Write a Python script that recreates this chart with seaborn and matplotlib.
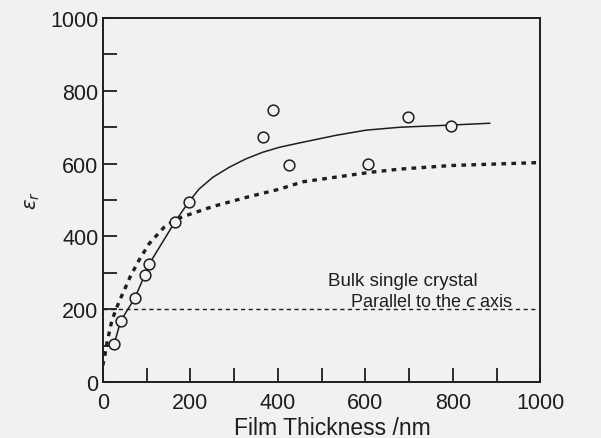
import matplotlib
matplotlib.use("Agg")
import matplotlib.pyplot as plt
import seaborn as sns

# measured points
thickness = [26, 41, 73, 96, 106, 165, 196, 367, 388, 425, 606, 698, 797]
eps_r = [104, 168, 230, 294, 324, 440, 494, 672, 747, 597, 600, 727, 704]

# solid fitted curve
solid_x = [26, 41, 73, 96, 106, 165, 196, 220, 251, 289, 327, 365, 404, 450, 534, 602, 679, 797, 885]
solid_y = [104, 168, 230, 294, 324, 440, 494, 530, 562, 590, 613, 631, 645, 657, 678, 692, 700, 706, 711]

# dotted curve
dot_x = [0, 5, 10, 21, 37, 52, 63, 83, 106, 121, 140, 159, 174, 197, 251, 327, 404, 457, 610, 679, 800, 1000]
dot_y = [45, 75, 110, 170, 220, 260, 290, 335, 380, 400, 425, 440, 450, 460, 482, 507, 530, 550, 576, 585, 595, 603]

# bulk single crystal reference
bulk_x = [0, 990]
bulk_y = [200, 200]

x_ticks = [0, 200, 400, 600, 800, 1000]
y_ticks = [0, 200, 400, 600, 800, 1000]

sns.set_theme(style="ticks")
plt.rcParams['font.family'] = ['Liberation Sans', 'DejaVu Sans']
bg = '#f1f1ef'
ink = '#1e1e1e'

fig = plt.figure(figsize=(6.01, 4.39), dpi=100, facecolor=bg)
ax = fig.add_axes([0.171, 0.1276, 0.728, 0.829])
ax.set_facecolor(bg)

sns.lineplot(x=bulk_x, y=bulk_y, ax=ax, color=ink, lw=1.0, linestyle=(0, (3, 2.5)), sort=False, estimator=None)
sns.lineplot(x=dot_x, y=dot_y, ax=ax, color=ink, lw=2.4, linestyle=(0, (1.4, 1.6)), sort=False, estimator=None)
sns.lineplot(x=solid_x, y=solid_y, ax=ax, color=ink, lw=1.1, sort=False, estimator=None)
sns.scatterplot(x=thickness, y=eps_r, ax=ax, s=60, marker='o', facecolor=bg, edgecolor=ink, linewidth=1.1, zorder=5)

ax.set_xlim(0, 1000)
ax.set_ylim(0, 1000)
ax.set_xticks(range(0, 1001, 100))
ax.set_yticks(range(0, 1001, 100))
ax.set_xticklabels([str(v) if v in x_ticks else '' for v in range(0, 1001, 100)])
ax.set_yticklabels([str(v) if v in y_ticks else '' for v in range(0, 1001, 100)])
ax.tick_params(direction='in', length=10, width=1.3, colors=ink, labelsize=15.5)
ax.tick_params(axis='x', pad=7)
ax.tick_params(axis='y', pad=3)
for s in ax.spines.values():
    s.set_linewidth(1.4)
    s.set_color(ink)
    s.set_visible(True)

ax.set_xlabel('Film Thickness /nm', fontsize=16.5, color=ink)
ax.xaxis.set_label_coords(0.524, -0.094)
ax.set_ylabel(r'$\varepsilon_r$', fontsize=14, color=ink)
ax.yaxis.set_label_coords(-0.14, 0.5)

ax.text(515, 278, 'Bulk single crystal', fontsize=13.5, color=ink, va='center', ha='left')
ax.text(566, 222, r'Parallel to the $\mathit{c}$ axis', fontsize=13, color=ink, va='center', ha='left')

fig.savefig('out.png', dpi=100, facecolor=bg)
